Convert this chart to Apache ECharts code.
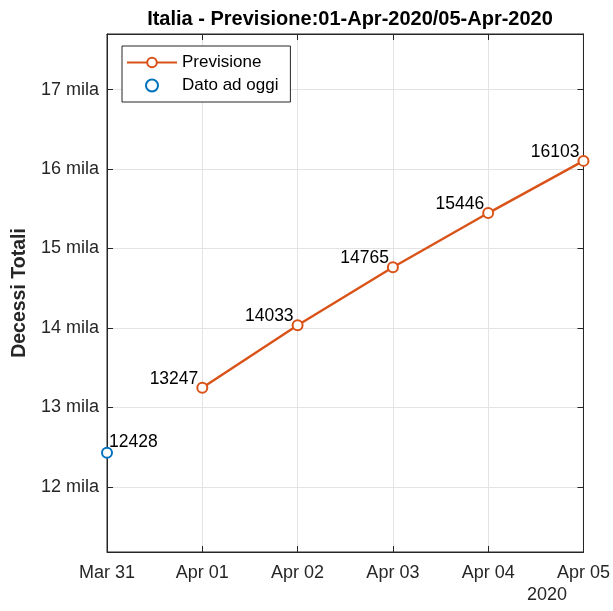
<!DOCTYPE html>
<html>
<head>
<meta charset="utf-8">
<script src="https://cdn.jsdelivr.net/npm/echarts@6/dist/echarts.min.js"></script>
<style>html,body{margin:0;padding:0;background:#fff}#chart{width:613px;height:611px}</style>
</head>
<body>
<div id="chart"></div>
<script>
// etichette asse x (giorni)
const dayLabels = ['Mar 31', 'Apr 01', 'Apr 02', 'Apr 03', 'Apr 04', 'Apr 05'];
// previsione dal 01-Apr al 05-Apr
const forecastDays = [1, 2, 3, 4, 5];
const forecastValues = [13247, 14033, 14765, 15446, 16103];
// dato attuale
const todayDay = [0];
const todayValue = [12428];
const yTicks = [12000, 13000, 14000, 15000, 16000, 17000];

const font = 'Liberation Sans, Arial, Helvetica, sans-serif';
const axisColor = '#262626';

const chart = echarts.init(document.getElementById('chart'));

const forecastData = forecastDays.map((d, i) => [d, forecastValues[i]]);
const todayData = todayDay.map((d, i) => [d, todayValue[i]]);

const option = {
    animation: false,
    textStyle: { fontFamily: font },
    title: {
        text: 'Italia - Previsione:01-Apr-2020/05-Apr-2020',
        left: 345, top: 4, textAlign: 'center',
        textStyle: { fontSize: 20, fontWeight: 'bold', color: '#000', fontFamily: font }
    },
    legend: {
        left: 122, top: 46, orient: 'vertical',
        itemWidth: 50, itemHeight: 12, itemGap: 6,
        padding: [8, 12, 8, 4],
        borderColor: axisColor, borderWidth: 1, backgroundColor: '#fff',
        textStyle: { fontSize: 17, color: '#000', fontFamily: font },
        data: ['Previsione', 'Dato ad oggi']
    },
    grid: { left: 107, right: 28, top: 34, bottom: 59, show: true, borderColor: axisColor, borderWidth: 1 },
    xAxis: [{
        type: 'value', min: 0, max: 5, interval: 1,
        axisLine: { show: true, onZero: false, lineStyle: { color: axisColor } },
        axisTick: { inside: true, length: 6, lineStyle: { color: axisColor } },
        axisLabel: { margin: 12, fontSize: 18, color: axisColor, formatter: v => dayLabels[v] },
        splitLine: { show: true, lineStyle: { color: '#e3e3e3' } }
    }, {
        type: 'value', min: 0, max: 5, interval: 1, position: 'top',
        axisLine: { show: true, onZero: false, lineStyle: { color: axisColor } },
        axisTick: { inside: true, length: 6, lineStyle: { color: axisColor } },
        axisLabel: { show: false }, splitLine: { show: false }
    }],
    yAxis: [{
        type: 'value', min: 11180, max: 17700,
        name: 'Decessi Totali', nameLocation: 'middle', nameGap: 76,
        nameTextStyle: { fontSize: 19.5, fontWeight: 'bold', color: axisColor, fontFamily: font },
        axisLine: { show: true, onZero: false, lineStyle: { color: axisColor } },
        axisTick: { inside: true, length: 6, customValues: yTicks, lineStyle: { color: axisColor } },
        axisLabel: { margin: 8, fontSize: 18, color: axisColor, customValues: yTicks, formatter: v => (v / 1000) + ' mila' },
        splitLine: { show: true, lineStyle: { color: '#e3e3e3' } }
    }, {
        type: 'value', min: 11180, max: 17700, position: 'right',
        axisLine: { show: true, onZero: false, lineStyle: { color: axisColor } },
        axisTick: { inside: true, length: 6, customValues: yTicks, lineStyle: { color: axisColor } },
        axisLabel: { show: false, customValues: yTicks }, splitLine: { show: false }
    }],
    graphic: [{
        type: 'text', left: 527, top: 586,
        style: { text: '2020', fontSize: 18, fill: axisColor, fontFamily: font }
    }],
    series: [{
        name: 'Previsione', type: 'line', data: forecastData,
        symbol: 'emptyCircle', symbolSize: 10,
        lineStyle: { color: '#D95319', width: 2.4 },
        itemStyle: { color: '#D95319', borderColor: '#D95319', borderWidth: 2.4 },
        label: {
            show: true, position: 'left', distance: 0, offset: [2, -9],
            fontSize: 17.5, color: '#000', fontFamily: font,
            formatter: p => p.value[1]
        }
    }, {
        name: 'Dato ad oggi', type: 'scatter', data: todayData,
        symbol: 'emptyCircle', symbolSize: 10,
        itemStyle: { color: '#0072BD', borderColor: '#0072BD', borderWidth: 2.4, opacity: 1 },
        label: {
            show: true, position: 'right', distance: 0, offset: [-4, -11],
            fontSize: 17.5, color: '#000', opacity: 1, fontFamily: font,
            formatter: p => p.value[1]
        }
    }]
};

chart.setOption(option);
</script>
</body>
</html>
